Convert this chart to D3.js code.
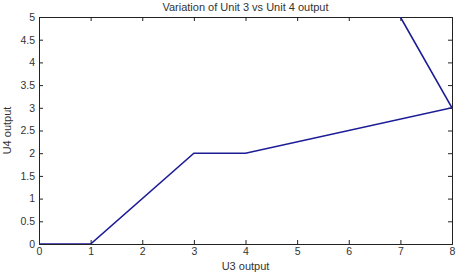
<!DOCTYPE html>
<html>
<head>
<meta charset="utf-8">
<script src="https://cdn.jsdelivr.net/npm/d3@7"></script>
<style>
  body { margin: 0; background: #fff; }
  text { font-family: "Liberation Sans", Arial, sans-serif; fill: #333; }
</style>
</head>
<body>
<div id="chart"></div>
<script>
// data
var u3 = [0, 1, 3, 4, 8, 7];
var u4 = [0, 0, 2, 2, 3, 5];
var xTicks = [0, 1, 2, 3, 4, 5, 6, 7, 8];
var yTicks = [0, 0.5, 1, 1.5, 2, 2.5, 3, 3.5, 4, 4.5, 5];

var W = 458, H = 276;
var margin = {top: 17, right: 6, bottom: 32, left: 39},
    width = W - margin.left - margin.right,
    height = H - margin.top - margin.bottom;

var x = d3.scaleLinear().domain([0, 8]).range([0, width]);
var y = d3.scaleLinear().domain([0, 5]).range([height, 0]);

var svg = d3.select("#chart").append("svg")
    .attr("width", W).attr("height", H);

var g = svg.append("g")
    .attr("transform", "translate(" + margin.left + "," + margin.top + ")");

g.append("clipPath").attr("id", "plot-clip")
  .append("rect").attr("width", width).attr("height", height);

// axes, ticks pointing inward like matlab
var tick = 4;
var bottom = g.append("g").attr("transform", "translate(0," + height + ")")
    .call(d3.axisBottom(x).tickValues(xTicks).tickSize(-tick).tickPadding(4).tickFormat(d3.format("d")));
var top_ = g.append("g")
    .call(d3.axisTop(x).tickValues(xTicks).tickSize(-tick).tickFormat(""));
var left = g.append("g")
    .call(d3.axisLeft(y).tickValues(yTicks).tickSize(-tick).tickPadding(4).tickFormat(d3.format("")));
var right = g.append("g").attr("transform", "translate(" + width + ",0)")
    .call(d3.axisRight(y).tickValues(yTicks).tickSize(-tick).tickFormat(""));

[bottom, top_, left, right].forEach(function(a) {
  a.selectAll("path, line").attr("stroke", "#222").attr("stroke-width", 1);
  a.selectAll("text").style("font-size", "10.5px").attr("fill", "#333");
});

// the line
var data = u3.map(function(d, i) { return {one: d, two: u4[i]}; });
var valueline = d3.line()
    .x(function(d) { return x(d.one); })
    .y(function(d) { return y(d.two); });

g.append("path")
    .datum(data)
    .attr("clip-path", "url(#plot-clip)")
    .attr("fill", "none")
    .attr("stroke", "#1c1c96")
    .attr("stroke-width", 1.6)
    .attr("d", valueline);

// labels
svg.append("text")
    .attr("x", margin.left + width / 2).attr("y", 11)
    .attr("text-anchor", "middle")
    .style("font-size", "11px")
    .text("Variation of Unit 3 vs Unit 4 output");

svg.append("text")
    .attr("x", margin.left + width / 2).attr("y", 270)
    .attr("text-anchor", "middle")
    .style("font-size", "11px")
    .text("U3 output");

svg.append("text")
    .attr("transform", "translate(11," + (margin.top + height / 2) + ") rotate(-90)")
    .attr("text-anchor", "middle")
    .style("font-size", "11px")
    .text("U4 output");
</script>
</body>
</html>
